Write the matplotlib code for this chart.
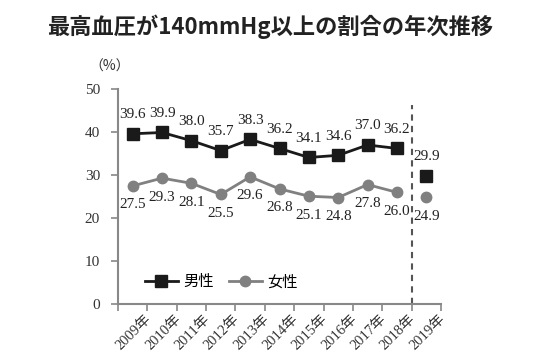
import matplotlib
matplotlib.use("Agg")
import matplotlib.pyplot as plt
import matplotlib.transforms as mtransforms
from matplotlib.lines import Line2D

years = ["2009年", "2010年", "2011年", "2012年", "2013年", "2014年",
         "2015年", "2016年", "2017年", "2018年", "2019年"]
male = [39.6, 39.9, 38.0, 35.7, 38.3, 36.2, 34.1, 34.6, 37.0, 36.2, 29.9]
female = [27.5, 29.3, 28.1, 25.5, 29.6, 26.8, 25.1, 24.8, 27.8, 26.0, 24.9]
yticks = [0, 10, 20, 30, 40, 50]

serif = ["Liberation Serif", "Noto Sans CJK JP"]
cjk = ["Noto Sans CJK JP", "DejaVu Sans"]

fig = plt.figure(figsize=(5.4, 3.52), dpi=100)
ax = fig.add_axes([118/540, 47.7/352, 323/540, 215.3/352])

n = len(years)
xs = list(range(n))
black = "#1a1a1a"
gray = "#808080"

ax.plot(xs[:10], male[:10], color=black, lw=2, marker="s", ms=9, zorder=3)
ax.plot(xs[10:], male[10:], color=black, lw=0, marker="s", ms=9, zorder=3)
ax.plot(xs[:10], female[:10], color=gray, lw=2, marker="o", ms=7.5, zorder=3)
ax.plot(xs[10:], female[10:], color=gray, lw=0, marker="o", ms=7.5, zorder=3)

for x, v in zip(xs, male):
    ax.annotate(f"{v:.1f}", (x, v), xytext=(0, 9), textcoords="offset points",
                ha="center", va="bottom", fontsize=11, family=serif, color="#222")
for x, v in zip(xs, female):
    ax.annotate(f"{v:.1f}", (x, v), xytext=(0, -9), textcoords="offset points",
                ha="center", va="top", fontsize=11, family=serif, color="#222")

ax.plot([9.5, 9.5], [0, 46.3], color="#555", lw=1.5, ls=(0, (3, 2.5)), zorder=2)

ax.set_xlim(-0.5, n - 0.5)
ax.set_ylim(0, 50)
ax.set_yticks(yticks)
ax.set_yticklabels([str(t) for t in yticks], family=serif, fontsize=11, color="#333")

ax.set_xticks(xs)
ax.set_xticklabels(years, rotation=45, ha="right", rotation_mode="anchor",
                   family=serif, fontsize=10.5, color="#333")
ax.tick_params(axis="x", which="major", length=0, pad=6)
ax.set_xticks([i - 0.5 for i in range(n + 1)], minor=True)
ax.tick_params(axis="x", which="minor", length=5, color="#888", width=1.2)
ax.tick_params(axis="y", length=5, color="#888", width=1.2, pad=8)
offset = mtransforms.ScaledTranslation(12/100, 0, fig.dpi_scale_trans)
for lab in ax.get_xticklabels():
    lab.set_transform(lab.get_transform() + offset)

for s in ["top", "right"]:
    ax.spines[s].set_visible(False)
for s in ["left", "bottom"]:
    ax.spines[s].set_color("#888")
    ax.spines[s].set_linewidth(1.5)

handles = [Line2D([], [], color=black, lw=2, marker="s", ms=8),
           Line2D([], [], color=gray, lw=2, marker="o", ms=7.5)]
ax.legend(handles, ["男性", "女性"], loc="center left", bbox_to_anchor=(0.04, 0.104),
          ncol=2, frameon=False, prop={"family": cjk, "size": 11},
          handlelength=2.2, handletextpad=0.3, columnspacing=1.0)

fig.text(110/540, 1 - 67/352, "（%）", ha="center", va="center", fontsize=10,
         family=cjk, color="#333")
fig.text(270/540, 1 - 27/352, "最高血圧が140mmHg以上の割合の年次推移", ha="center",
         va="center", fontsize=16, fontweight="bold", family=cjk, color="#222")

fig.savefig("out.png", dpi=100)
